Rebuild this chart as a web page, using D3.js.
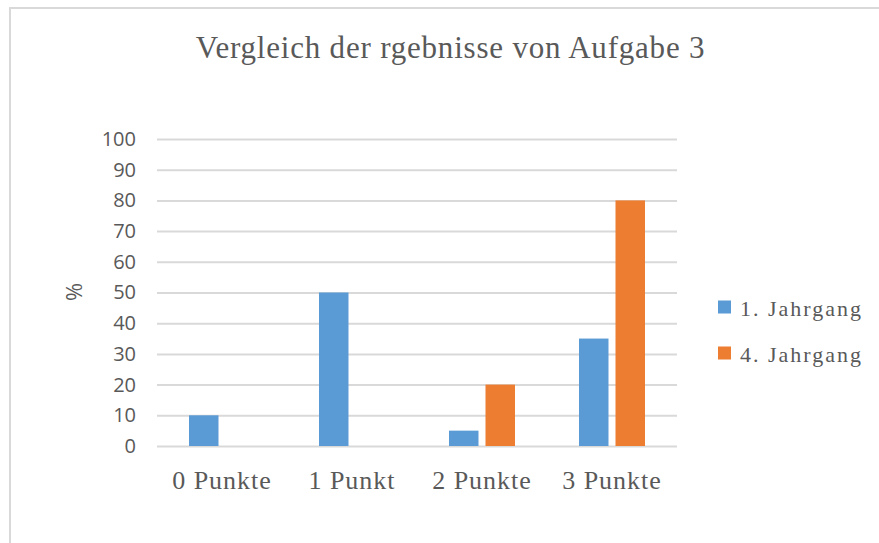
<!DOCTYPE html>
<html>
<head>
<meta charset="utf-8">
<script src="https://cdn.jsdelivr.net/npm/d3@7"></script>
<style>
  body { margin: 0; background: #fff; }
  .axis text { fill: #595959; }
</style>
</head>
<body>
<svg width="879" height="543"></svg>
<script>
var categories = ["0 Punkte", "1 Punkt", "2 Punkte", "3 Punkte"];
var seriesNames = ["1. Jahrgang", "4. Jahrgang"];
var jahrgang1 = [10, 50, 5, 35];
var jahrgang4 = [0, 0, 20, 80];
var yTicks = [0, 10, 20, 30, 40, 50, 60, 70, 80, 90, 100];
var chartTitle = "Vergleich der rgebnisse von Aufgabe 3";
var yTitle = "%";

var colors = ["#5B9BD5", "#ED7D31"];

var svg = d3.select("svg");
var margin = {top: 139, left: 157},
    width = 520,
    height = 307;

// build rows for the grouped bars
var rows = categories.map(function(c, i) {
  return {cat: c, values: [
    {name: seriesNames[0], v: jahrgang1[i]},
    {name: seriesNames[1], v: jahrgang4[i]}
  ]};
});

// chart frame (cropped at right and bottom like the screenshot)
svg.append("rect")
    .attr("x", 10).attr("y", 8)
    .attr("width", 900).attr("height", 600)
    .attr("fill", "none")
    .attr("stroke", "#d9d9d9")
    .attr("stroke-width", 2);

var x0 = d3.scaleBand().domain(categories).range([0, width]);
var x1 = d3.scaleBand().domain(seriesNames).range([32, 98]).paddingInner(0.192);
var y = d3.scaleLinear().domain([0, 100]).range([height, 0]);
var color = d3.scaleOrdinal().domain(seriesNames).range(colors);

var g = svg.append("g")
    .attr("transform", "translate(" + margin.left + "," + margin.top + ")");

// y axis + gridlines
var yAxis = g.append("g")
    .attr("class", "y axis")
    .call(d3.axisLeft(y).tickValues(yTicks).tickSize(-width).tickPadding(21));
yAxis.select(".domain").remove();
yAxis.selectAll("line").attr("stroke", "#d9d9d9").attr("stroke-width", 2);
yAxis.selectAll("text")
    .style("font-family", "'Open Sans', sans-serif")
    .style("font-size", "20px");

// x axis labels
var xAxis = g.append("g")
    .attr("class", "x axis")
    .attr("transform", "translate(0," + height + ")")
    .call(d3.axisBottom(x0).tickSize(0).tickPadding(25));
xAxis.select(".domain").remove();
xAxis.selectAll("text")
    .style("font-family", "'Liberation Serif', serif")
    .style("font-size", "26px")
    .style("letter-spacing", "1px");

// bars
g.selectAll(".group")
    .data(rows)
  .enter().append("g")
    .attr("class", "group")
    .attr("transform", function(d) { return "translate(" + x0(d.cat) + ",0)"; })
  .selectAll("rect")
    .data(function(d) { return d.values; })
  .enter().append("rect")
    .attr("x", function(d) { return x1(d.name); })
    .attr("y", function(d) { return y(d.v); })
    .attr("width", x1.bandwidth())
    .attr("height", function(d) { return height - y(d.v); })
    .attr("fill", function(d) { return color(d.name); });

// title
svg.append("text")
    .attr("x", 450.5)
    .attr("y", 57.7)
    .attr("text-anchor", "middle")
    .style("font-family", "'Liberation Serif', serif")
    .style("font-size", "31px")
    .style("letter-spacing", "0.8px")
    .style("fill", "#595959")
    .text(chartTitle);

// y axis title
svg.append("text")
    .attr("transform", "translate(82,292) rotate(-90)")
    .attr("text-anchor", "middle")
    .style("font-family", "'Open Sans', sans-serif")
    .style("font-size", "22px")
    .style("fill", "#595959")
    .text(yTitle);

// legend
var ly = d3.scalePoint().domain(seriesNames).range([307, 353]);
var legend = svg.selectAll(".legend")
    .data(seriesNames)
  .enter().append("g")
    .attr("class", "legend")
    .attr("transform", function(d) { return "translate(718," + ly(d) + ")"; });
legend.append("rect")
    .attr("y", -6.5)
    .attr("width", 13).attr("height", 13)
    .attr("fill", function(d) { return color(d); });
legend.append("text")
    .attr("x", 22)
    .attr("y", 9)
    .style("font-family", "'Liberation Serif', serif")
    .style("font-size", "22px")
    .style("letter-spacing", "2px")
    .style("fill", "#595959")
    .text(function(d) { return d; });
</script>
</body>
</html>
